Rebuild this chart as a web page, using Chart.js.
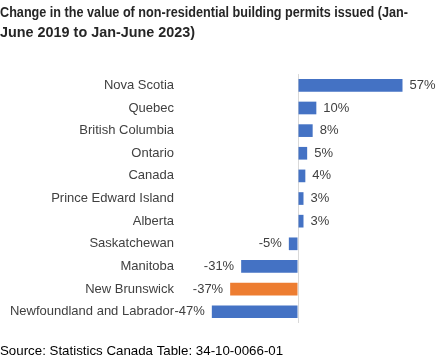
<!DOCTYPE html>
<html>
<head>
<meta charset="utf-8">
<script src="https://cdn.jsdelivr.net/npm/chart.js@4"></script>
<style>
  body { margin: 0; background: #fff; }
  #wrap { width: 447px; height: 362px; position: relative; }
</style>
</head>
<body>
<div id="wrap"><canvas id="permits"></canvas></div>
<script>
// data
const regions = [
  "Nova Scotia",
  "Quebec",
  "British Columbia",
  "Ontario",
  "Canada",
  "Prince Edward Island",
  "Alberta",
  "Saskatchewan",
  "Manitoba",
  "New Brunswick",
  "Newfoundland and Labrador",
];
const changePct = [57, 10, 8, 5, 4, 3, 3, -5, -31, -37, -47];
const highlighted = "New Brunswick";

const FONT = "'Liberation Sans', Arial, sans-serif";
const TEXT = "#404040";

// value labels at the end of each bar
const barLabels = {
  id: "barLabels",
  afterDatasetsDraw(chart) {
    const ctx = chart.ctx;
    const meta = chart.getDatasetMeta(0);
    ctx.save();
    ctx.font = "13px " + FONT;
    ctx.fillStyle = TEXT;
    ctx.textBaseline = "middle";
    meta.data.forEach((bar, i) => {
      const v = changePct[i];
      if (v >= 0) {
        ctx.textAlign = "left";
        ctx.fillText(v + "%", bar.x + 7, bar.y);
      } else {
        ctx.textAlign = "right";
        ctx.fillText(v + "%", bar.x - 7, bar.y);
      }
    });
    ctx.restore();
  },
};

const ctx = document.getElementById("permits").getContext("2d");
new Chart(ctx, {
  type: "bar",
  data: {
    labels: regions,
    datasets: [
      {
        data: changePct,
        backgroundColor: regions.map((r) => (r === highlighted ? "#ED7D31" : "#4472C4")),
        barPercentage: 0.56,
        categoryPercentage: 1,
      },
    ],
  },
  options: {
    indexAxis: "y",
    responsive: true,
    maintainAspectRatio: false,
    animation: false,
    layout: { padding: { left: 0, right: 39, top: 0, bottom: 0 } },
    plugins: {
      legend: { display: false },
      tooltip: { enabled: false },
      title: {
        display: true,
        align: "start",
        text: [
          "Change in the value of non-residential building permits issued (Jan-",
          "June 2019 to Jan-June 2023)",
        ],
        color: "#262626",
        font: { family: FONT, size: 14.4, weight: "bold", lineHeight: 1.39 },
        padding: { top: 3, bottom: 31 },
      },
      subtitle: {
        display: true,
        position: "bottom",
        align: "start",
        text: "Source: Statistics Canada Table: 34-10-0066-01",
        color: "#000",
        font: { family: FONT, size: 13.3, lineHeight: 1.2 },
        padding: { top: 20, bottom: 3 },
      },
    },
    scales: {
      x: {
        min: -60,
        max: 60,
        ticks: { display: false, stepSize: 20 },
        border: { display: false },
        grid: {
          drawTicks: false,
          color: (c) => (c.tick && c.tick.value === 0 ? "#d9d9d9" : "rgba(0,0,0,0)"),
        },
      },
      y: {
        border: { display: false },
        grid: { display: false, drawTicks: false },
        ticks: { color: TEXT, font: { family: FONT, size: 13 }, padding: 14 },
        afterFit(scale) {
          scale.width = 188;
        },
      },
    },
  },
  plugins: [barLabels],
});
</script>
</body>
</html>
